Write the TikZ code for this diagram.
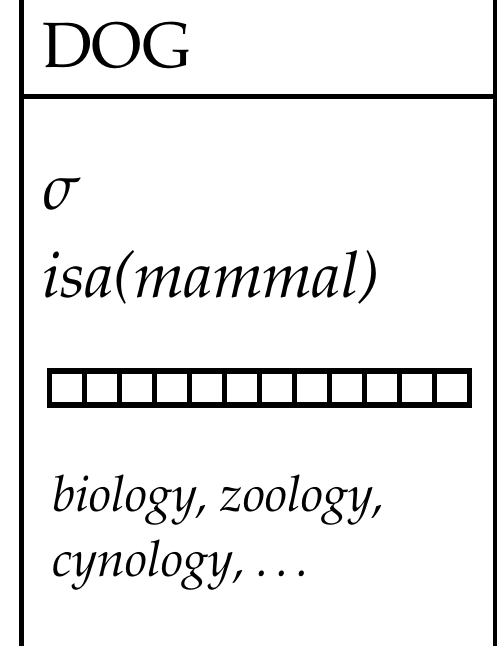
\documentclass[tikz,border=0pt]{standalone}
\usepackage[T1]{fontenc}
\usepackage{mathpazo}
\usetikzlibrary{positioning}

\tikzset{
    frame/.style={draw=black, line width=2.5pt},
    cell/.style={draw=black, line width=2.75pt, minimum width=17.5pt, minimum height=17pt, inner sep=0pt},
    bigtext/.style={anchor=base west, inner sep=0pt, font=\fontsize{32}{39}\selectfont},
    smalltext/.style={anchor=base west, inner sep=0pt, font=\fontsize{25}{32.5}\selectfont\itshape}
}

\begin{document}
\begin{tikzpicture}[x=0.5pt, y=0.5pt]
        \useasboundingbox (0,0) rectangle (502,646);
%
        \coordinate (lt) at (21,656);
        \coordinate (lb) at (21,-10);
        \coordinate (rt) at (495,656);
        \coordinate (rb) at (495,-10);
        \coordinate (hl) at (21,549.5);
        \coordinate (hr) at (495,549.5);
        \draw[frame] (lt) -- (lb);
        \draw[frame, line width=2.25pt] (rt) -- (rb);
        \draw[frame, line width=2.75pt] (hl) -- (hr);
%
        \node[bigtext] (title) at (42,578) {DOG};
        \node[bigtext] (sigma) at (42,436) {$\sigma$};
        \node[bigtext] (isa) at (42,348) {\itshape isa(mammal)};
%
        \foreach \i in {1,...,12}
            \node[cell] (c\i) at ({67+35*(\i-1)},258) {};
%
        \node[smalltext] (domainsA) at (52,134) {biology, zoology,};
        \node[smalltext] (domainsB) at (52,69) {cynology, \ldots};
\end{tikzpicture}
\end{document}
